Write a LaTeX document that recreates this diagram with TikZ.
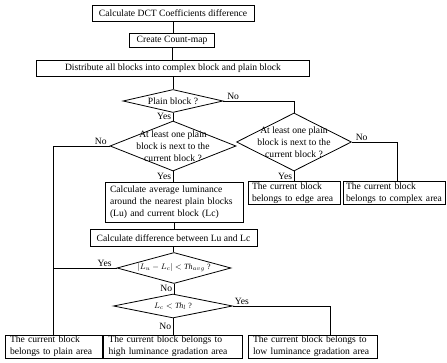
\documentclass[tikz,border=0pt]{standalone}
\usepackage{fontspec}
\setmainfont{Liberation Serif}
\usetikzlibrary{shapes.geometric}
\begin{document}
\begin{tikzpicture}[x=1pt,y=-1pt,
  font=\fontsize{9.6}{12}\selectfont,
  every path/.style={line width=0.8pt},
  box/.style={draw,inner sep=1pt,align=center},
  lbox/.style={draw,inner ysep=1pt,align=left},
  dia/.style={draw,diamond,inner sep=0pt},
  lab/.style={inner sep=1.5pt}]
\useasboundingbox (0,0) rectangle (447,363);
% boxes of the main chain
\node[box,minimum width=162pt,minimum height=16pt] (b1) at (173,13) {Calculate DCT Coefficients difference};
\node[box,minimum width=85pt,minimum height=14pt] (b2) at (172,40) {Create Count-map};
\node[box,minimum width=273pt,minimum height=16pt] (b3) at (173,68) {Distribute all blocks into complex block and plain block};
% diamonds
\node[dia,minimum width=100pt,minimum height=23pt] (d1) at (173,101) {};
\node at (d1) {Plain block ?};
\node[dia,minimum width=126pt,minimum height=50pt] (d2) at (173,146) {};
\node[align=center] at (d2) {At least one plain\\block is next to the\\current block ?};
\node[dia,minimum width=115pt,minimum height=58pt] (d2r) at (294,142) {};
\node[align=center] at (d2r) {At least one plain\\block is next to the\\current block ?};
% second row
\node[lbox,text width=128pt,inner xsep=5pt,minimum height=40pt] (avg) at (174,202) {Calculate average luminance\\around the nearest plain blocks\\(Lu) and current block (Lc)};
\node[lbox,text width=84pt,inner xsep=4pt,minimum height=22pt] (edge) at (294,193) {The current block\\belongs to edge area};
\node[lbox,text width=96pt,inner xsep=3pt,minimum height=22pt] (cplx) at (394,193) {The current block\\belongs to complex area};
\node[box,minimum width=167pt,minimum height=17pt] (diff) at (173.5,238) {Calculate difference between Lu and Lc};
\node[dia,minimum width=114pt,minimum height=31pt] (d3) at (174,268) {};
\node[font=\fontsize{8}{10}\selectfont] at (d3) {$|L_u - L_c| < \mathit{Th}_{avg}$ ?};
\node[dia,minimum width=119pt,minimum height=24pt] (d4) at (173,306) {};
\node[font=\fontsize{8}{10}\selectfont] at (d4) {$L_c < \mathit{Th}_l$ ?};
% bottom row
\node[lbox,text width=87pt,inner xsep=5pt,minimum height=23pt] (plain) at (53.5,346.5) {The current block\\belongs to plain area};
\node[lbox,text width=129pt,inner xsep=5pt,minimum height=23pt] (high) at (173,346.5) {The current block belongs to\\high luminance gradation area};
\node[lbox,text width=119pt,inner xsep=5pt,minimum height=23pt] (low) at (312.5,346.5) {The current block belongs to\\low luminance gradation area};
% connectors
\draw (b1.south) -- (b1.south |- b2.north);
\draw (b2.south) -- (b2.south |- b3.north);
\draw (b3.south) -- (b3.south |- d1.north);
\draw (d1.east) -| node[lab,pos=0,above right,xshift=2pt] {No} (d2r.north);
\draw (d1.south) -- node[lab,left] {Yes} (d2.north);
\draw (d2.west) -| node[lab,pos=0,above left,xshift=-1pt] {No} (plain.north);
\draw (d2.south) -- node[lab,left] {Yes} (d2.south |- avg.north);
\draw (d2r.east) -| node[lab,pos=0,above right,xshift=2pt] {No} ([xshift=3pt]cplx.north);
\draw (d2r.south) -- node[lab,left] {Yes} (edge.north);
\draw (avg.south) -- (avg.south |- diff.north);
\draw (diff.south) -- (diff.south |- d3.north);
\draw (d3.west) -| node[lab,pos=0,above left,xshift=-3pt] {Yes} (plain.north);
\draw (d3.south) -- node[lab,left] {No} (d3.south |- d4.north);
\draw (d4.east) -| node[lab,pos=0,above right] {Yes} ([xshift=17.5pt]low.north);
\draw (d4.south) -- node[lab,left] {No} (d4.south |- high.north);
\end{tikzpicture}
\end{document}
